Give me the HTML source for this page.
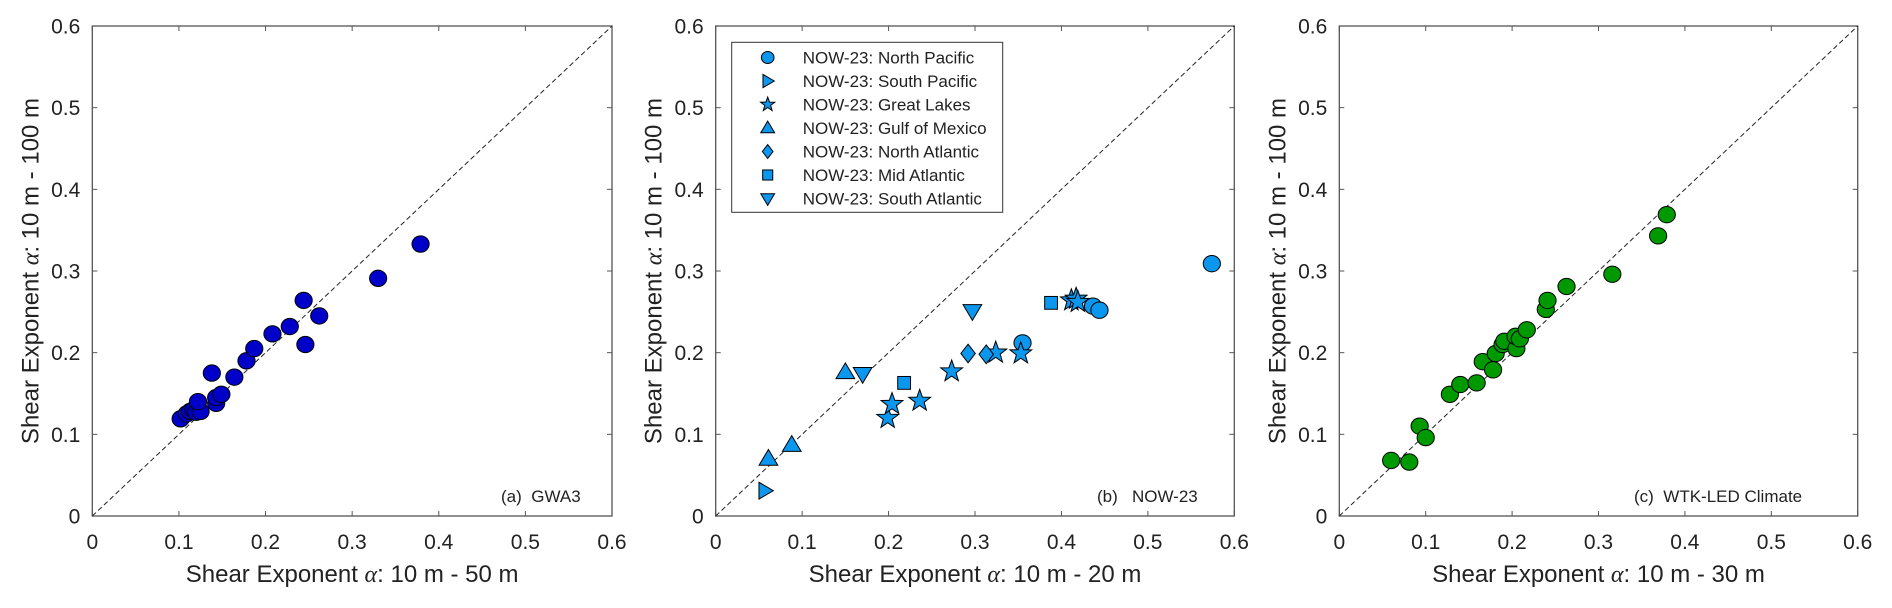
<!DOCTYPE html>
<html><head><meta charset="utf-8"><style>
html,body{margin:0;padding:0;background:#fff;}
svg{display:block;font-family:"Liberation Sans",sans-serif;}
.pre{white-space:pre;}
</style></head><body>
<svg id="fig" width="1892" height="608" viewBox="0 0 1892 608" xmlns="http://www.w3.org/2000/svg"></svg>
<script>
// Panel (a) GWA3
const gwaX = [0.102,0.109,0.113,0.117,0.120,0.125,0.122,0.138,0.143,0.143,0.149,0.164,0.178,0.187,0.208,0.228,0.244,0.246,0.262,0.330,0.379];
const gwaY = [0.119,0.125,0.128,0.130,0.127,0.128,0.140,0.175,0.138,0.145,0.149,0.170,0.190,0.205,0.223,0.232,0.264,0.210,0.245,0.291,0.333];
// Panel (c) WTK-LED Climate
const wtkX = [0.060,0.081,0.093,0.100,0.128,0.140,0.159,0.166,0.178,0.181,0.189,0.191,0.205,0.204,0.209,0.217,0.239,0.241,0.263,0.316,0.369,0.379];
const wtkY = [0.068,0.066,0.110,0.096,0.149,0.161,0.163,0.189,0.179,0.199,0.210,0.214,0.205,0.220,0.217,0.228,0.253,0.264,0.281,0.296,0.343,0.369];
// Panel (b) NOW-23 regions
const npX = [0.355,0.4365,0.444,0.574];
const npY = [0.212,0.257,0.252,0.309];
const spX = [0.057];
const spY = [0.031];
const glX = [0.199,0.204,0.236,0.273,0.324,0.353,0.4115,0.417,0.419];
const glY = [0.120,0.137,0.141,0.177,0.200,0.199,0.264,0.266,0.262];
const gmX = [0.061,0.088,0.150];
const gmY = [0.070,0.087,0.176];
const naX = [0.292,0.313];
const naY = [0.199,0.198];
const maX = [0.218,0.388];
const maY = [0.163,0.261];
const saX = [0.170,0.297];
const saY = [0.174,0.251];
const tickVals = [0,0.1,0.2,0.3,0.4,0.5,0.6];
const tickLabels = ["0","0.1","0.2","0.3","0.4","0.5","0.6"];
const legendLabels = ["NOW-23: North Pacific","NOW-23: South Pacific","NOW-23: Great Lakes","NOW-23: Gulf of Mexico","NOW-23: North Atlantic","NOW-23: Mid Atlantic","NOW-23: South Atlantic"];

const NS = "http://www.w3.org/2000/svg";
const svg = document.getElementById('fig');
function mk(tag, attrs, parent){
  const e = document.createElementNS(NS, tag);
  for (const k in attrs) e.setAttribute(k, attrs[k]);
  (parent||svg).appendChild(e);
  return e;
}
const TOP = 26, BOT = 516;
function makeAxis(left, right){
  return {sx: v => left + (right-left)*v/0.6, sy: v => BOT - (BOT-TOP)*v/0.6, left, right};
}
function marker(g, shape, cx, cy, fill, s){
  let e;
  const st = {fill: fill, stroke: '#000', 'stroke-width': 1};
  if (shape === 'circle') { e = mk('ellipse', Object.assign({cx, cy, rx: s, ry: s*0.95}, st), g); }
  else if (shape === 'square') { e = mk('rect', Object.assign({x: cx-s*0.8, y: cy-s*0.8, width: s*1.6, height: s*1.6}, st), g); }
  else if (shape === 'diamond') { e = mk('polygon', Object.assign({points: `${cx},${cy-s*1.1} ${cx+s*0.85},${cy} ${cx},${cy+s*1.1} ${cx-s*0.85},${cy}`}, st), g); }
  else if (shape === 'up') { e = mk('polygon', Object.assign({points: `${cx},${cy-s*1.1} ${cx+s*1.1},${cy+s*0.75} ${cx-s*1.1},${cy+s*0.75}`}, st), g); }
  else if (shape === 'down') { e = mk('polygon', Object.assign({points: `${cx},${cy+s*1.1} ${cx+s*1.1},${cy-s*0.75} ${cx-s*1.1},${cy-s*0.75}`}, st), g); }
  else if (shape === 'right') { e = mk('polygon', Object.assign({points: `${cx+s*1.05},${cy} ${cx-s*0.75},${cy-s*1.05} ${cx-s*0.75},${cy+s*1.05}`}, st), g); }
  else if (shape === 'star') {
    let pts = [];
    for (let i=0;i<10;i++){ const r = i%2===0 ? s*1.35 : s*0.55; const a = -Math.PI/2 + i*Math.PI/5; pts.push((cx+r*Math.cos(a)).toFixed(1)+','+(cy+r*Math.sin(a)).toFixed(1)); }
    e = mk('polygon', Object.assign({points: pts.join(' ')}, st), g);
  }
  return e;
}
function panel(id, left, right, xTitle, tag, tagX){
  const ax = makeAxis(left, right);
  const g = mk('g', {});
  
  
  const frame = mk('rect', {x: left, y: TOP, width: right-left, height: BOT-TOP, fill: 'none', stroke: '#555', 'stroke-width': 1.3}, g);
  
  
  tickVals.forEach((v,i) => {
    const x = ax.sx(v), y = ax.sy(v);
    mk('line', {x1: x, y1: BOT, x2: x, y2: BOT-5, stroke: '#555'}, g);
    mk('line', {x1: x, y1: TOP, x2: x, y2: TOP+5, stroke: '#555'}, g);
    mk('line', {x1: left, y1: y, x2: left+5, y2: y, stroke: '#555'}, g);
    mk('line', {x1: right, y1: y, x2: right-5, y2: y, stroke: '#555'}, g);
    const xt = mk('text', {x: x, y: 549, 'font-size': 21, 'text-anchor': 'middle', fill: '#222'}, g);
    xt.textContent = tickLabels[i];
    
    
    const yt = mk('text', {x: left-12, y: y+7.5, 'font-size': 21, 'text-anchor': 'end', fill: '#222'}, g);
    yt.textContent = tickLabels[i];
    
    
  });
  const diag = mk('line', {x1: ax.sx(0), y1: ax.sy(0), x2: ax.sx(0.6), y2: ax.sy(0.6), stroke: '#222', 'stroke-width': 1, 'stroke-dasharray': '5,3'}, g);
  
  
  const xtt = mk('text', {x: (left+right)/2, y: 582, 'font-size': 24, 'text-anchor': 'middle', fill: '#222'}, g);
  xtt.innerHTML = 'Shear Exponent <tspan font-family="Liberation Serif" font-style="italic">α</tspan>: ' + xTitle;
  
  
  const cy = (TOP+BOT)/2;
  const ytt = mk('text', {x: 0, y: 0, 'font-size': 24, 'text-anchor': 'middle', fill: '#222', transform: `translate(${left-54},${cy}) rotate(-90)`}, g);
  ytt.innerHTML = 'Shear Exponent <tspan font-family="Liberation Serif" font-style="italic">α</tspan>: 10 m - 100 m';
  
  
  const pt = mk('text', {x: tagX, y: 502, 'font-size': 17, fill: '#222', class: 'pre'}, g);
  pt.textContent = tag;
  
  
  return {ax, g};
}
function series(p, xs, ys, shape, fill, s, name){
  const g = mk('g', {}, p.g);
  
  
  xs.forEach((v,i) => {
    const m = marker(g, shape, p.ax.sx(v), p.ax.sy(ys[i]), fill, s);
    
    
  });
}
const BLUE = '#0000c8', SKY = '#0b97ee', GREEN = '#009a00';
const pa = panel('gwa3', 92.3, 612, '10 m - 50 m', '(a)  GWA3', 501);
series(pa, gwaX, gwaY, 'circle', BLUE, 8.6, 'gwa3-series');
const pb = panel('now23', 715.7, 1234.3, '10 m - 20 m', '(b)   NOW-23', 1097);
series(pb, npX, npY, 'circle', SKY, 8.6, 'north-pacific-series');
series(pb, spX, spY, 'right', SKY, 8, 'south-pacific-series');
series(pb, glX, glY, 'star', SKY, 8.5, 'great-lakes-series');
series(pb, gmX, gmY, 'up', SKY, 8.5, 'gulf-of-mexico-series');
series(pb, naX, naY, 'diamond', SKY, 8.5, 'north-atlantic-series');
series(pb, maX, maY, 'square', SKY, 8, 'mid-atlantic-series');
series(pb, saX, saY, 'down', SKY, 8.5, 'south-atlantic-series');
const pc = panel('wtk-led', 1339.3, 1857.7, '10 m - 30 m', '(c)  WTK-LED Climate', 1634);
series(pc, wtkX, wtkY, 'circle', GREEN, 8.6, 'wtk-led-series');

// legend
const lg = mk('g', {});


mk('rect', {x: 731.7, y: 42.3, width: 271, height: 170, fill: '#fff', stroke: '#333', 'stroke-width': 1}, lg);
const shapes = ['circle','right','star','up','diamond','square','down'];
legendLabels.forEach((lab,i) => {
  const y = 57.5 + i*23.5;
  const m = marker(lg, shapes[i], 767.7, y, SKY, shapes[i]==='star' ? 5.5 : 6.3);
  
  
  const t = mk('text', {x: 802.7, y: y+6, 'font-size': 17, fill: '#222'}, lg);
  t.textContent = lab;
  
  
});
</script>
</body></html>
